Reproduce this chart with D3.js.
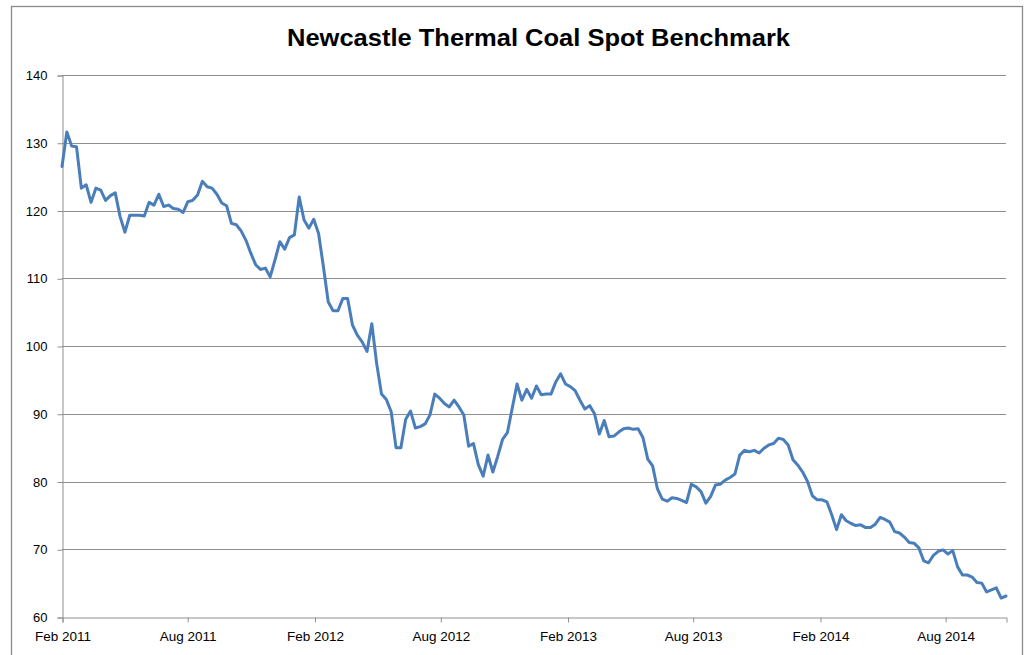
<!DOCTYPE html>
<html>
<head>
<meta charset="utf-8">
<script src="https://cdn.jsdelivr.net/npm/d3@7"></script>
<style>
  html, body { margin: 0; padding: 0; background: #fff; }
  svg { display: block; }
</style>
</head>
<body>
<svg id="chart" width="1024" height="655"></svg>
<script>
// ---- Data ----
const chartTitle = "Newcastle Thermal Coal Spot Benchmark";
const firstWeek = "2011-02-04"; // weekly observations start
const prices = [
  126.5, 131.6, 129.5, 129.4, 123.3, 123.8, 121.2, 123.3, 123.0, 121.5,
  122.2, 122.6, 119.1, 116.8, 119.3, 119.3, 119.3, 119.2, 121.2, 120.8,
  122.4, 120.6, 120.8, 120.3, 120.2, 119.7, 121.3, 121.5, 122.3, 124.3,
  123.5, 123.3, 122.4, 121.1, 120.7, 118.1, 117.9, 117.0, 115.6, 113.7,
  112.0, 111.3, 111.5, 110.2, 112.7, 115.4, 114.3, 116.0, 116.4, 122.0,
  118.6, 117.4, 118.7, 116.6, 111.7, 106.5, 105.2, 105.2, 107.0, 107.0,
  103.1, 101.6, 100.6, 99.2, 103.3, 97.4, 92.9, 92.1, 90.3, 85.0,
  85.0, 89.2, 90.4, 87.9, 88.1, 88.5, 89.8, 92.9, 92.3, 91.5,
  91.0, 92.0, 91.0, 89.8, 85.2, 85.6, 82.5, 80.8, 83.9, 81.4,
  83.7, 86.2, 87.2, 90.8, 94.4, 92.0, 93.6, 92.3, 94.1, 92.8,
  92.9, 92.9, 94.7, 95.9, 94.4, 94.0, 93.4, 92.0, 90.7, 91.2,
  90.0, 87.0, 89.0, 86.6, 86.7, 87.3, 87.8, 87.9, 87.7, 87.8,
  86.5, 83.3, 82.3, 78.9, 77.4, 77.1, 77.6, 77.5, 77.2, 76.9,
  79.6, 79.2, 78.5, 76.8, 77.8, 79.5, 79.6, 80.2, 80.6, 81.1,
  83.9, 84.6, 84.4, 84.6, 84.2, 84.9, 85.4, 85.6, 86.4, 86.2,
  85.4, 83.2, 82.4, 81.4, 80.0, 77.9, 77.3, 77.3, 77.0, 75.1,
  72.9, 75.1, 74.2, 73.8, 73.5, 73.6, 73.2, 73.2, 73.7, 74.7,
  74.4, 74.0, 72.6, 72.4, 71.8, 71.0, 70.9, 70.2, 68.3, 68.0,
  69.1, 69.7, 69.9, 69.3, 69.8, 67.4, 66.2, 66.2, 65.9, 65.1,
  65.0, 63.7, 64.0, 64.3, 62.8, 63.1
];
const xTickLabels = ["Feb 2011", "Aug 2011", "Feb 2012", "Aug 2012", "Feb 2013", "Aug 2013", "Feb 2014", "Aug 2014"];
const yTicks = [60, 70, 80, 90, 100, 110, 120, 130, 140];

// ---- Layout ----
const plot = { left: 62, right: 1006, top: 75, bottom: 617 };
const svg = d3.select("#chart");

const start = d3.timeParse("%Y-%m-%d")(firstWeek);
const series = prices.map((v, i) => ({ date: d3.timeDay.offset(start, 7 * i), value: v }));
const tickDates = xTickLabels.map((_, k) => d3.timeMonth.offset(start, 6 * k));

const x = d3.scaleTime()
  .domain([start, series[series.length - 1].date])
  .range([plot.left, plot.right]);
const y = d3.scaleLinear().domain([60, 140]).range([plot.bottom, plot.top]);

// outer frame
svg.append("rect")
  .attr("x", 11.5).attr("y", 6.5)
  .attr("width", 1011).attr("height", 660)
  .attr("fill", "#fff").attr("stroke", "#8a8a8a").attr("stroke-width", 1.3);

// title
svg.append("text")
  .attr("x", 538.5).attr("y", 46)
  .attr("text-anchor", "middle")
  .attr("font-family", "'Liberation Sans', Arial, sans-serif")
  .attr("font-weight", "bold")
  .attr("font-size", 23)
  .attr("textLength", 503)
  .attr("lengthAdjust", "spacingAndGlyphs")
  .attr("fill", "#000")
  .text(chartTitle);

// gridlines
svg.append("g")
  .selectAll("line")
  .data(yTicks.filter(t => t > 60))
  .join("line")
  .attr("x1", plot.left).attr("x2", plot.right)
  .attr("y1", d => Math.round(y(d)) + 0.5).attr("y2", d => Math.round(y(d)) + 0.5)
  .attr("stroke", "#8f8f8f").attr("stroke-width", 1);

// y axis
const yAxis = d3.axisLeft(y).tickValues(yTicks).tickSize(5).tickPadding(10).tickFormat(d3.format("d"));
const gy = svg.append("g").attr("transform", `translate(${plot.left + 0.5},0.5)`).call(yAxis);
gy.select(".domain").attr("stroke", "#8f8f8f");
gy.selectAll(".tick line").attr("stroke", "#8f8f8f");
gy.selectAll(".tick text")
  .attr("font-family", "'Liberation Sans', Arial, sans-serif")
  .attr("font-size", 13).attr("fill", "#000");

// x axis
const xAxis = d3.axisBottom(x).tickValues(tickDates).tickSize(5).tickPadding(9)
  .tickFormat((d, i) => xTickLabels[i]);
const gx = svg.append("g").attr("transform", `translate(0.5,${plot.bottom + 0.5})`).call(xAxis);
gx.select(".domain").attr("stroke", "#8f8f8f");
gx.selectAll(".tick line").attr("stroke", "#8f8f8f");
gx.selectAll(".tick text")
  .attr("font-family", "'Liberation Sans', Arial, sans-serif")
  .attr("font-size", 13.5).attr("fill", "#000");

// line
const line = d3.line().x(d => x(d.date)).y(d => y(d.value));
svg.append("path")
  .datum(series)
  .attr("d", line)
  .attr("fill", "none")
  .attr("stroke", "#4a7ebb")
  .attr("stroke-width", 3)
  .attr("stroke-linejoin", "round")
  .attr("stroke-linecap", "round");
</script>
</body>
</html>
